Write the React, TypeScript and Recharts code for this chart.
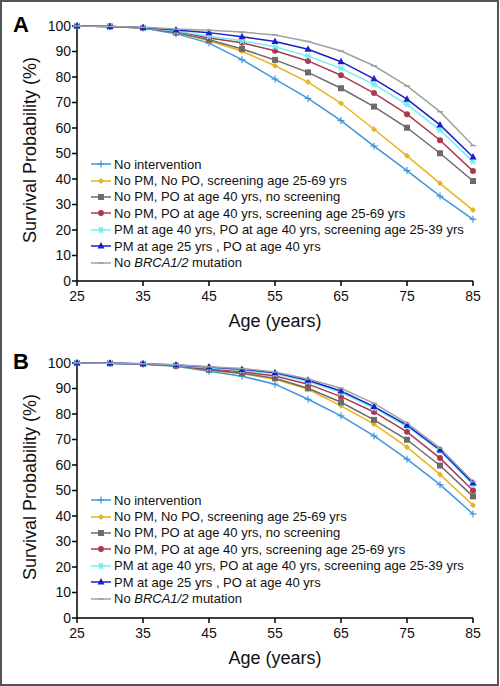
import { LineChart, Line, XAxis, YAxis } from 'recharts';

const ages = [25, 30, 35, 40, 45, 50, 55, 60, 65, 70, 75, 80, 85];
const ageTicks = [25, 35, 45, 55, 65, 75, 85];
const probTicks = [0, 10, 20, 30, 40, 50, 60, 70, 80, 90, 100];

// panel A
const aNoIntervention = [100, 99.8, 99.2, 97.0, 93.3, 86.8, 79.2, 71.6, 62.9, 52.9, 43.3, 33.3, 24.2];
const aNoPmNoPo = [100, 99.8, 99.2, 97.5, 94.2, 90.1, 84.4, 78.0, 69.7, 59.5, 49.1, 38.3, 27.8];
const aPo40NoScreen = [100, 99.8, 99.2, 97.4, 94.6, 91.0, 86.7, 81.8, 75.6, 68.4, 60.1, 50.1, 39.2];
const aPo40Screen = [100, 99.8, 99.3, 97.9, 95.3, 93.4, 90.3, 86.3, 80.7, 73.7, 65.4, 55.2, 43.1];
const aPm40Po40 = [100, 99.8, 99.3, 98.0, 96.0, 94.2, 91.9, 88.2, 83.4, 77.1, 69.3, 59.2, 46.8];
const aPm25Po40 = [100, 99.8, 99.4, 98.4, 97.4, 95.8, 93.9, 90.9, 86.0, 79.3, 71.3, 61.2, 48.6];
const aNoMutation = [100, 99.8, 99.5, 98.8, 98.3, 97.6, 96.5, 93.9, 90.2, 84.4, 76.5, 66.4, 53.1];

// panel B
const bNoIntervention = [100, 99.9, 99.5, 98.7, 96.8, 94.8, 91.7, 85.8, 79.3, 71.4, 62.3, 52.3, 40.8];
const bNoPmNoPo = [100, 99.9, 99.6, 98.9, 97.2, 95.8, 93.6, 89.7, 83.2, 76.0, 67.0, 56.3, 44.2];
const bPo40NoScreen = [100, 99.9, 99.6, 98.9, 97.3, 96.0, 94.0, 90.1, 84.6, 77.7, 69.9, 59.8, 47.7];
const bPo40Screen = [100, 99.9, 99.6, 99.0, 97.6, 96.6, 94.9, 91.7, 86.8, 80.8, 73.0, 62.7, 50.0];
const bPm40Po40 = [100, 99.9, 99.7, 99.1, 98.0, 97.2, 95.8, 92.7, 88.4, 82.3, 75.1, 65.6, 52.3];
const bPm25Po40 = [100, 99.9, 99.7, 99.2, 98.4, 97.5, 96.2, 93.2, 89.0, 82.9, 75.6, 65.9, 52.9];
const bNoMutation = [100, 99.9, 99.7, 99.3, 98.5, 97.8, 96.5, 93.7, 90.1, 84.2, 76.4, 66.6, 53.5];

const series = [
  { key: 's0', color: '#3d97dc', marker: 'plus', label: <>No intervention</> },
  { key: 's1', color: '#e7b51f', marker: 'diamond', label: <>No PM, No PO, screening age 25-69 yrs</> },
  { key: 's2', color: '#6b6b6b', marker: 'square', label: <>No PM, PO at age 40 yrs, no screening</> },
  { key: 's3', color: '#a93a4e', marker: 'circle', label: <>No PM, PO at age 40 yrs, screening age 25-69 yrs</> },
  { key: 's4', color: '#74eef4', marker: 'star', label: <>PM at age 40 yrs, PO at age 40 yrs, screening age 25-39 yrs</> },
  { key: 's5', color: '#1c1fc8', marker: 'triangle', label: <>PM at age 25 yrs , PO at age 40 yrs</> },
  { key: 's6', color: '#9da3a3', marker: 'dash', label: <>No <i>BRCA1/2</i> mutation</> },
];

const font = '"Liberation Sans", Arial, sans-serif';

function buildRows(cols: number[][]) {
  return ages.map((age, i) => {
    const row: any = { age };
    cols.forEach((c, j) => { row['s' + j] = c[i]; });
    return row;
  });
}

const dataA = buildRows([aNoIntervention, aNoPmNoPo, aPo40NoScreen, aPo40Screen, aPm40Po40, aPm25Po40, aNoMutation]);
const dataB = buildRows([bNoIntervention, bNoPmNoPo, bPo40NoScreen, bPo40Screen, bPm40Po40, bPm25Po40, bNoMutation]);

function Marker({ kind, cx, cy, color }: { kind: string; cx: number; cy: number; color: string }) {
  switch (kind) {
    case 'plus':
      return (
        <g stroke={color} strokeWidth={1.2}>
          <line x1={cx - 3.5} y1={cy} x2={cx + 3.5} y2={cy} />
          <line x1={cx} y1={cy - 3.5} x2={cx} y2={cy + 3.5} />
        </g>
      );
    case 'diamond':
      return <path d={`M${cx},${cy - 3}L${cx + 3},${cy}L${cx},${cy + 3}L${cx - 3},${cy}Z`} fill={color} />;
    case 'square':
      return <rect x={cx - 3} y={cy - 3} width={6} height={6} fill={color} />;
    case 'circle':
      return <circle cx={cx} cy={cy} r={3} fill={color} />;
    case 'star':
      return (
        <g stroke={color} strokeWidth={1.5}>
          <line x1={cx - 3.5} y1={cy} x2={cx + 3.5} y2={cy} />
          <line x1={cx - 2} y1={cy - 3} x2={cx + 2} y2={cy + 3} />
          <line x1={cx + 2} y1={cy - 3} x2={cx - 2} y2={cy + 3} />
        </g>
      );
    case 'triangle':
      return <path d={`M${cx},${cy - 4}L${cx + 3.5},${cy + 2.5}L${cx - 3.5},${cy + 2.5}Z`} fill={color} />;
    default:
      return <line x1={cx - 3} y1={cy} x2={cx + 3} y2={cy} stroke={color} strokeWidth={1.5} />;
  }
}

function LegendBox({ top }: { top: number }) {
  return (
    <div style={{ position: 'absolute', left: 90, top, fontFamily: font, fontSize: 13, color: '#111' }}>
      {series.map((s) => (
        <div key={s.key} style={{ height: 16.4, display: 'flex', alignItems: 'center', whiteSpace: 'nowrap' }}>
          <svg width={22} height={12} style={{ marginRight: 2 }}>
            <line x1={1} y1={6} x2={21} y2={6} stroke={s.color} strokeWidth={1.5} />
            <Marker kind={s.marker} cx={11} cy={6} color={s.color} />
          </svg>
          <span>{s.label}</span>
        </div>
      ))}
    </div>
  );
}

function Panel({ letter, data, top, legendTop }: { letter: string; data: any[]; top: number; legendTop: number }) {
  return (
    <div style={{ position: 'absolute', left: 0, top, width: 500, height: 343 }}>
      <LineChart width={500} height={343} data={data} margin={{ top: 26, right: 27, bottom: 32, left: 0 }}>
        <XAxis
          dataKey="age"
          type="number"
          domain={[25, 85]}
          ticks={ageTicks}
          height={30}
          tickSize={5}
          tickMargin={5}
          stroke="#000"
          strokeWidth={1.5}
          tick={{ fill: '#111', fontSize: 14, fontFamily: font }}
        />
        <YAxis
          type="number"
          domain={[0, 100]}
          ticks={probTicks}
          width={77}
          tickSize={5}
          tickMargin={1}
          stroke="#000"
          strokeWidth={1.5}
          tick={{ fill: '#111', fontSize: 14, fontFamily: font }}
        />
        {series.map((s) => (
          <Line
            key={s.key}
            dataKey={s.key}
            stroke={s.color}
            strokeWidth={1.5}
            isAnimationActive={false}
            dot={(p: any) => <Marker key={`${s.key}-${p.index}`} kind={s.marker} cx={p.cx} cy={p.cy} color={s.color} />}
            activeDot={false}
          />
        ))}
      </LineChart>
      <div style={{ position: 'absolute', left: 13, top: 12, fontFamily: font, fontSize: 22, fontWeight: 'bold', color: '#000' }}>
        {letter}
      </div>
      <div
        style={{
          position: 'absolute', left: 30, top: 150, width: 240, marginLeft: -120, marginTop: -11,
          textAlign: 'center', transform: 'rotate(-90deg)', fontFamily: font, fontSize: 18, color: '#111', lineHeight: '22px',
        }}
      >
        Survival Probability (%)
      </div>
      <div
        style={{
          position: 'absolute', left: 175, top: 310, width: 200, textAlign: 'center',
          fontFamily: font, fontSize: 18, color: '#111', lineHeight: '22px',
        }}
      >
        Age (years)
      </div>
      <LegendBox top={legendTop} />
    </div>
  );
}

export default function App() {
  return (
    <div
      style={{
        position: 'absolute', left: 0, top: 0, width: 499, height: 686, boxSizing: 'border-box',
        border: '2px solid #555', background: '#fff', overflow: 'hidden',
      }}
    >
      <div style={{ position: 'absolute', left: -2, top: -2 }}>
        <Panel letter="A" data={dataA} top={0} legendTop={156} />
        <Panel letter="B" data={dataB} top={337} legendTop={155} />
      </div>
    </div>
  );
}
